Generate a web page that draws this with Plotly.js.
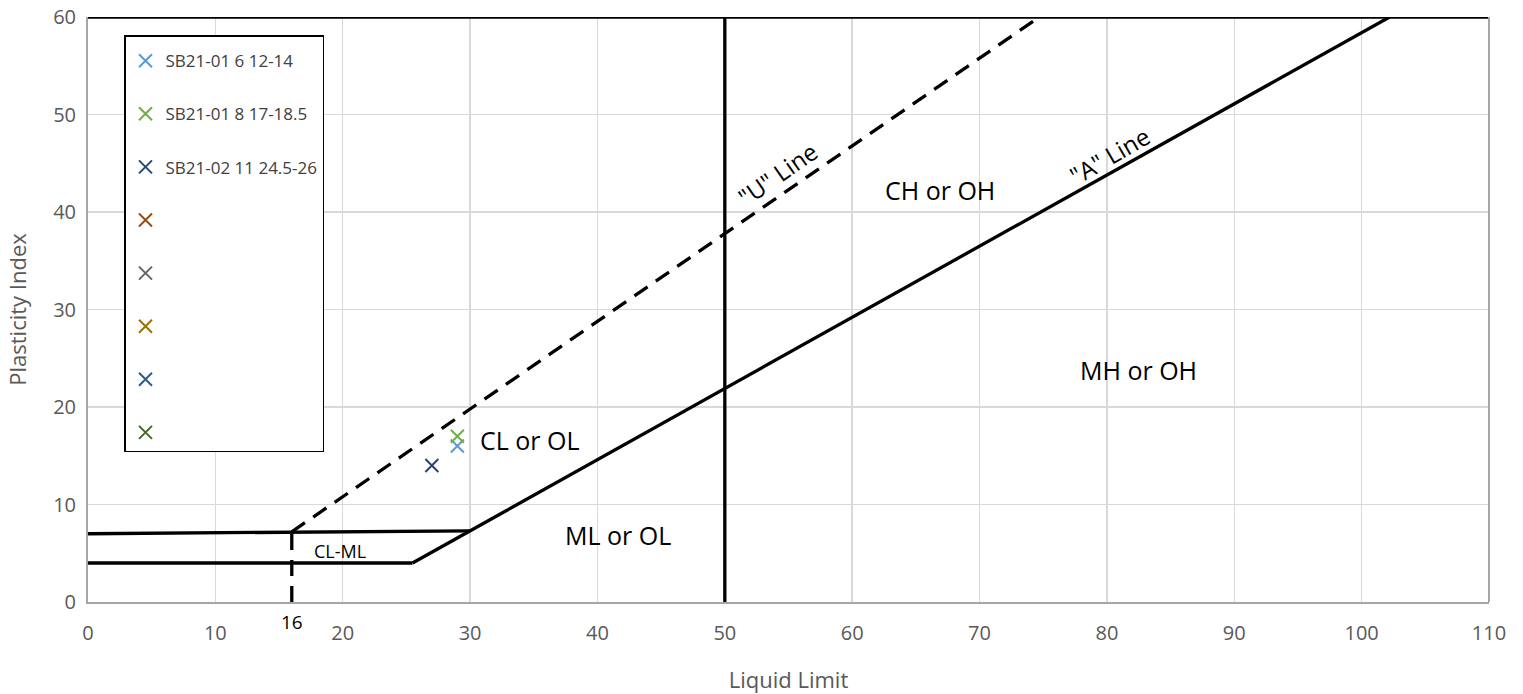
<!DOCTYPE html>
<html>
<head>
<meta charset="utf-8">
<script src="https://cdn.plot.ly/plotly-3.0.1.min.js"></script>
<style>html,body{margin:0;padding:0;background:#fff;}#chart{width:1523px;height:694px;}</style>
</head>
<body>
<div id="chart"></div>
<script>
// Sample data
const sampleNames = ["SB21-01 6 12-14", "SB21-01 8 17-18.5", "SB21-02 11 24.5-26", " ", "  ", "   ", "    ", "     "];
const sampleLL = [[29], [29], [27], [null], [null], [null], [null], [null]];
const samplePI = [[16], [17], [14], [null], [null], [null], [null], [null]];
const sampleColors = ["#5B9BD5", "#70AD47", "#264478", "#9E480E", "#636363", "#997300", "#255E91", "#43682B"];

// Chart boundary lines (Casagrande plasticity chart)
const aLineLL = [25.48, 102.2];
const aLinePI = [4, 60];
const aLowLL = [0, 25.48];
const aLowPI = [4, 4];
const clmlTopLL = [0, 30];
const clmlTopPI = [7, 7.3];
const uLineLL = [16, 74.7];
const uLinePI = [7.2, 60];
const sixteenLL = [16, 16];
const sixteenPI = [0, 7.2];
const fiftyLL = [50, 50];
const fiftyPI = [0, 60];
const topLL = [0, 110];
const topPI = [60, 60];

// Region labels
const regionText = ["CH or OH", "MH or OH", "CL or OL", "ML or OL"];
const regionLL = [66.9, 82.5, 34.7, 41.6];
const regionPI = [42.3, 23.8, 16.6, 6.9];

const FONT = "Open Sans, Noto Sans, sans-serif";
const traces = [];

function line(x, y, dash) {
  return {x: x, y: y, mode: "lines", type: "scatter", showlegend: false, hoverinfo: "skip",
    line: {color: "#000", width: 3.3, dash: dash || "solid"}};
}
traces.push(line(aLowLL, aLowPI));
traces.push(line(aLineLL, aLinePI));
traces.push(line(clmlTopLL, clmlTopPI));
traces.push(line(uLineLL, uLinePI, "16px,10px"));
traces.push(line(sixteenLL, sixteenPI, "16px,10px"));
traces.push(line(fiftyLL, fiftyPI));
traces.push(line(topLL, topPI));

sampleNames.forEach((n, i) => {
  traces.push({
    x: sampleLL[i], y: samplePI[i], name: n, type: "scatter", mode: "markers",
    legendgroup: "g" + i,
    marker: {symbol: "x-thin", size: 13, color: sampleColors[i], line: {color: sampleColors[i], width: 2}}
  });
});

const annotations = regionText.map((t, i) => ({
  x: regionLL[i], y: regionPI[i], text: t, showarrow: false, xref: "x", yref: "y",
  font: {family: FONT, size: 25, color: "#000"}
}));
annotations.push({x: 19.8, y: 5.2, text: "CL-ML", showarrow: false, font: {family: FONT, size: 18, color: "#000"}});
annotations.push({x: 54.2, y: 43.9, text: "\"U\" Line", showarrow: false, textangle: -35, font: {family: FONT, size: 24, color: "#000"}});
annotations.push({x: 80.2, y: 45.8, text: "\"A\" Line", showarrow: false, textangle: -30, font: {family: FONT, size: 24, color: "#000"}});
annotations.push({x: 16, y: -0.034, yref: "paper", yanchor: "middle", text: "16", showarrow: false, font: {family: FONT, size: 19, color: "#000"}});

const layout = {
  width: 1523, height: 694,
  margin: {l: 88, r: 34, t: 17, b: 92},
  paper_bgcolor: "#fff", plot_bgcolor: "#fff",
  font: {family: FONT, color: "#595959"},
  xaxis: {
    range: [0, 110], dtick: 10, tick0: 0, showgrid: true, gridcolor: "#D9D9D9", gridwidth: 1.5,
    zeroline: false, showline: true, linecolor: "#A6A6A6", linewidth: 2, mirror: false,
    ticks: "", tickfont: {size: 20, color: "#595959"}, ticklabelstandoff: 12,
    title: {text: "Liquid Limit", font: {size: 22, color: "#595959"}, standoff: 28}
  },
  yaxis: {
    range: [0, 60], dtick: 10, tick0: 0, showgrid: true, gridcolor: "#D9D9D9", gridwidth: 1.5,
    zeroline: false, showline: true, linecolor: "#A6A6A6", linewidth: 2,
    ticks: "", tickfont: {size: 20, color: "#595959"}, ticklabelstandoff: 6,
    title: {text: "Plasticity Index", font: {size: 22, color: "#595959"}, standoff: 20}
  },
  shapes: [
    {type: "line", xref: "paper", yref: "paper", x0: 1, x1: 1, y0: 0, y1: 1,
      line: {color: "#A6A6A6", width: 2}}
  ],
  annotations: annotations,
  legend: {
    x: 0.0257, y: 0.969, xanchor: "left", yanchor: "top",
    bordercolor: "#000", borderwidth: 1.5, bgcolor: "#fff",
    font: {family: FONT, size: 17, color: "#404040"},
    title: {text: " ", font: {size: 5}},
    tracegroupgap: 28, itemwidth: 30, entrywidth: 176
  },
  showlegend: true
};

Plotly.newPlot("chart", traces, layout, {displayModeBar: false, staticPlot: true});
</script>
</body>
</html>
